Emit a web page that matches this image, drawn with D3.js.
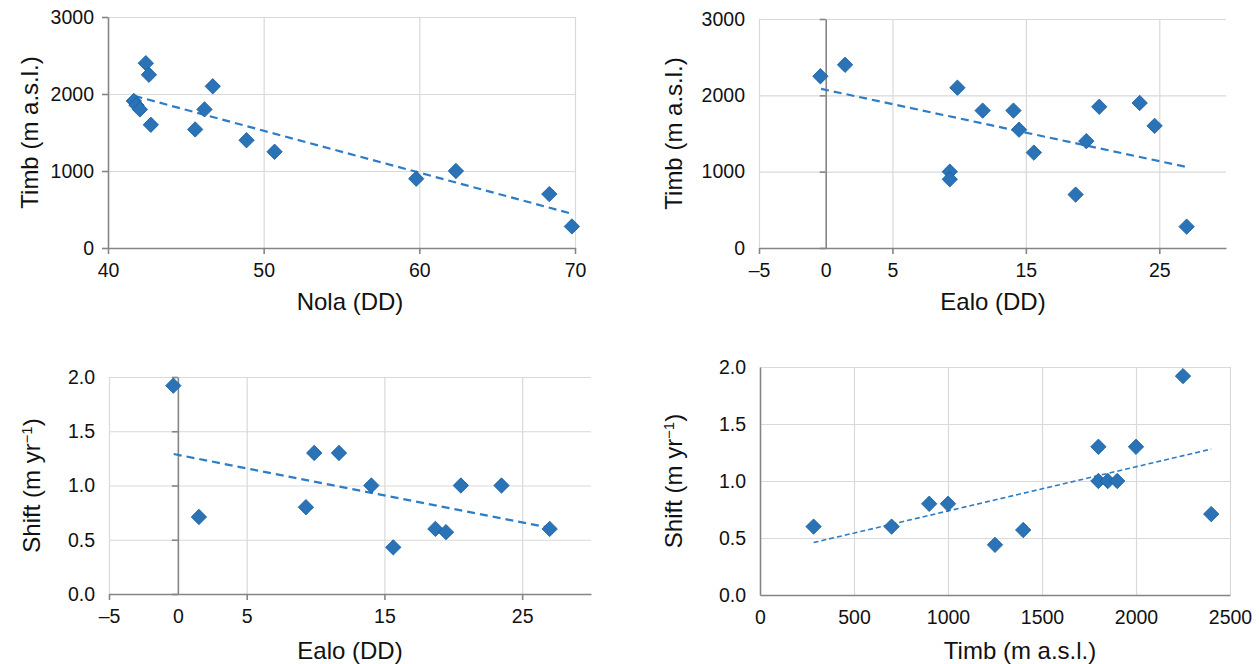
<!DOCTYPE html>
<html>
<head>
<meta charset="utf-8">
<script src="https://cdn.jsdelivr.net/npm/d3@7"></script>
<style>
  html, body { margin: 0; padding: 0; background: #ffffff; }
  svg { display: block; font-family: "Liberation Sans", Arial, Helvetica, sans-serif; }
</style>
</head>
<body>
<svg id="chart" width="1259" height="664"></svg>
<script>
// ---------------- DATA ----------------
// Panel A: Nola (DD) vs Timb (m a.s.l.)
const nolaDD   = [41.66, 41.83, 42.05, 42.43, 42.63, 42.75, 45.6, 46.2, 46.73, 48.9, 50.7, 59.8, 62.35, 68.35, 69.8];
const timbA    = [1910, 1855, 1800, 2400, 2250, 1600, 1540, 1800, 2100, 1400, 1250, 900, 1000, 700, 280];
const trendA   = [[41.7, 1975], [69.8, 445]];

// Panel B: Ealo (DD) vs Timb (m a.s.l.)
const ealoB    = [-0.4, 1.45, 9.87, 9.3, 9.3, 11.76, 14.07, 14.49, 15.6, 18.73, 19.53, 20.5, 23.53, 24.65, 27.05];
const timbB    = [2250, 2400, 2100, 1000, 900, 1800, 1800, 1550, 1250, 700, 1400, 1850, 1900, 1600, 280];
const trendB   = [[-0.35, 2085], [26.95, 1065]];

// Panel C: Ealo (DD) vs Shift (m yr-1)
const ealoC    = [-0.33, 1.53, 9.3, 9.9, 11.7, 14.05, 15.64, 18.7, 19.47, 20.55, 23.5, 27.0];
const shiftC   = [1.92, 0.71, 0.80, 1.30, 1.30, 1.00, 0.43, 0.60, 0.57, 1.00, 1.00, 0.60];
const trendC   = [[-0.3, 1.29], [27.0, 0.61]];

// Panel D: Timb (m a.s.l.) vs Shift (m yr-1)
const timbD    = [285, 700, 900, 1000, 1250, 1400, 1800, 1800, 1850, 1900, 2000, 2250, 2400];
const shiftD   = [0.60, 0.60, 0.80, 0.80, 0.44, 0.57, 1.30, 1.00, 1.00, 1.00, 1.30, 1.92, 0.71];
const trendD   = [[285, 0.46], [2400, 1.28]];

// Tick values / labels
const ticksXA = [40, 50, 60, 70];
const ticksYA = [0, 1000, 2000, 3000];
const ticksXB = [-5, 0, 5, 15, 25];
const gridXB  = [-5, 5, 15, 25];
const ticksYB = [0, 1000, 2000, 3000];
const ticksXC = [-5, 0, 5, 15, 25];
const gridXC  = [-5, 5, 15, 25];
const ticksYC = [0, 0.5, 1.0, 1.5, 2.0];
const ticksXD = [0, 500, 1000, 1500, 2000, 2500];
const ticksYD = [0, 0.5, 1.0, 1.5, 2.0];

const titleTimb  = "Timb (m a.s.l.)";
const titleNola  = "Nola (DD)";
const titleEalo  = "Ealo (DD)";

// ---------------- STYLE / LAYOUT ----------------
const AXIS_COLOR = "#858585";
const GRID_COLOR = "#d9d9d9";
const MARK_FILL  = "#2a73b7";
const MARK_STROKE= "#1c5f9f";
const TREND_COLOR= "#2d7cc6";
const TICK_FONT  = 19.5;
const TITLE_FONT = 24;

const fmtInt = d => (d < 0 ? "\u2013" + Math.abs(d) : String(d));
const fmt1   = d => d.toFixed(1);

const panels = [
  { xs: nolaDD, ys: timbA, trend: trendA, xDom: [40, 70], yDom: [0, 3000],
    box: { l: 108, r: 575, t: 17, b: 248 },
    xTicks: ticksXA, xGrid: ticksXA, yTicks: ticksYA, xFmt: fmtInt, yFmt: fmtInt,
    yAxisAt: 40, showTicks: true, xTitle: titleNola, yTitle: titleTimb, yTitleSup: null,
    xTitleX: 350, xTitleDy: 62, yTitleX: 30, dash: "8,5", trendW: 2.2, rightGrid: true },
  { xs: ealoB, ys: timbB, trend: trendB, xDom: [-5, 30], yDom: [0, 3000],
    box: { l: 759, r: 1226, t: 19, b: 248 },
    xTicks: ticksXB, xGrid: gridXB, yTicks: ticksYB, xFmt: fmtInt, yFmt: fmtInt,
    yAxisAt: 0, showTicks: true, xTitle: titleEalo, yTitle: titleTimb, yTitleSup: null,
    xTitleX: 993, xTitleDy: 62, yTitleX: 674, dash: "8,5", trendW: 2.2, rightGrid: false },
  { xs: ealoC, ys: shiftC, trend: trendC, xDom: [-5, 30], yDom: [0, 2],
    box: { l: 109, r: 591, t: 377, b: 594 },
    xTicks: ticksXC, xGrid: gridXC, yTicks: ticksYC, xFmt: fmtInt, yFmt: fmt1,
    yAxisAt: 0, showTicks: true, xTitle: titleEalo, yTitle: "Shift (m yr", yTitleSup: "\u22121",
    xTitleX: 350, xTitleDy: 65, yTitleX: 32, dash: "8,5", trendW: 2.2, rightGrid: false },
  { xs: timbD, ys: shiftD, trend: trendD, xDom: [0, 2500], yDom: [0, 2],
    box: { l: 760, r: 1230, t: 367, b: 595 },
    xTicks: ticksXD, xGrid: ticksXD, yTicks: ticksYD, xFmt: fmtInt, yFmt: fmt1,
    yAxisAt: 0, showTicks: false, xTitle: titleTimb, yTitle: "Shift (m yr", yTitleSup: "\u22121",
    xTitleX: 1020, xTitleDy: 64, yTitleX: 674, dash: "5,3", trendW: 1.6, rightGrid: true }
];

const svg = d3.select("#chart");

panels.forEach(p => {
  const g = svg.append("g");
  const x = d3.scaleLinear().domain(p.xDom).range([p.box.l, p.box.r]);
  const y = d3.scaleLinear().domain(p.yDom).range([p.box.b, p.box.t]);
  const H = p.box.b - p.box.t;
  const W = p.box.r - p.box.l;

  // vertical gridlines
  const xGridVals = p.xGrid.filter(v => v !== p.yAxisAt && (p.rightGrid || v !== p.xDom[1]));
  g.append("g")
    .attr("transform", `translate(0,${p.box.b})`)
    .call(d3.axisBottom(x).tickValues(xGridVals).tickSize(-H).tickFormat(""))
    .call(s => s.select(".domain").remove())
    .call(s => s.selectAll("line").attr("stroke", GRID_COLOR).attr("stroke-width", 1.2));

  // horizontal gridlines
  g.append("g")
    .attr("transform", `translate(${p.box.l},0)`)
    .call(d3.axisLeft(y).tickValues(p.yTicks.filter(v => v !== p.yDom[0])).tickSize(-W).tickFormat(""))
    .call(s => s.select(".domain").remove())
    .call(s => s.selectAll("line").attr("stroke", GRID_COLOR).attr("stroke-width", 1.2));

  // y tick labels (at left edge)
  g.append("g")
    .attr("transform", `translate(${p.box.l},0)`)
    .call(d3.axisLeft(y).tickValues(p.yTicks).tickSize(0).tickPadding(14).tickFormat(p.yFmt))
    .call(s => s.select(".domain").remove())
    .call(s => s.selectAll("text").attr("font-size", TICK_FONT).attr("fill", "#111")
      .attr("font-family", "'Liberation Sans', Arial, sans-serif"));

  // y axis line (with tick marks)
  const yAxisX = x(p.yAxisAt);
  g.append("g")
    .attr("transform", `translate(${yAxisX},0)`)
    .call(d3.axisLeft(y).tickValues(p.yTicks).tickSize(p.showTicks ? 6 : 0).tickSizeOuter(0).tickFormat(""))
    .call(s => s.select(".domain").attr("stroke", AXIS_COLOR).attr("stroke-width", 1.6))
    .call(s => s.selectAll("line").attr("stroke", AXIS_COLOR).attr("stroke-width", 1.6));

  // x axis line (with tick marks) and labels
  const xTickMarks = p.xGrid.filter(v => p.showTicks);
  g.append("g")
    .attr("transform", `translate(0,${p.box.b})`)
    .call(d3.axisBottom(x).tickValues(xTickMarks).tickSize(6).tickSizeOuter(0).tickFormat(""))
    .call(s => s.select(".domain").attr("stroke", AXIS_COLOR).attr("stroke-width", 1.6))
    .call(s => s.selectAll("line").attr("stroke", AXIS_COLOR).attr("stroke-width", 1.6));

  g.append("g")
    .attr("transform", `translate(0,${p.box.b})`)
    .call(d3.axisBottom(x).tickValues(p.xTicks).tickSize(0).tickPadding(15).tickFormat(p.xFmt))
    .call(s => s.select(".domain").remove())
    .call(s => s.selectAll("text").attr("font-size", TICK_FONT).attr("fill", "#111")
      .attr("font-family", "'Liberation Sans', Arial, sans-serif"));

  // x title
  g.append("text")
    .attr("x", p.xTitleX)
    .attr("y", p.box.b + p.xTitleDy)
    .attr("text-anchor", "middle")
    .attr("font-size", TITLE_FONT)
    .attr("fill", "#111")
    .text(p.xTitle);

  // y title
  const yt = g.append("text")
    .attr("transform", `translate(${p.yTitleX},${(p.box.t + p.box.b) / 2}) rotate(-90)`)
    .attr("text-anchor", "middle")
    .attr("dy", "0.35em")
    .attr("font-size", TITLE_FONT)
    .attr("fill", "#111");
  yt.append("tspan").text(p.yTitle);
  if (p.yTitleSup) {
    yt.append("tspan").attr("font-size", TITLE_FONT * 0.62).attr("dy", "-0.55em").text(p.yTitleSup);
    yt.append("tspan").attr("dy", "0.34em").text(")");
  }

  // trendline
  g.append("path")
    .datum(p.trend)
    .attr("d", d3.line().x(d => x(d[0])).y(d => y(d[1])))
    .attr("fill", "none")
    .attr("stroke", TREND_COLOR)
    .attr("stroke-width", p.trendW)
    .attr("stroke-dasharray", p.dash);

  // markers (diamonds)
  const pts = p.xs.map((v, i) => [v, p.ys[i]]);
  g.append("g").selectAll("path")
    .data(pts)
    .join("path")
    .attr("d", d3.symbol(d3.symbolSquare, 118))
    .attr("transform", d => `translate(${x(d[0])},${y(d[1])}) rotate(45)`)
    .attr("fill", MARK_FILL)
    .attr("stroke", MARK_STROKE)
    .attr("stroke-width", 0.8);
});
</script>
</body>
</html>
